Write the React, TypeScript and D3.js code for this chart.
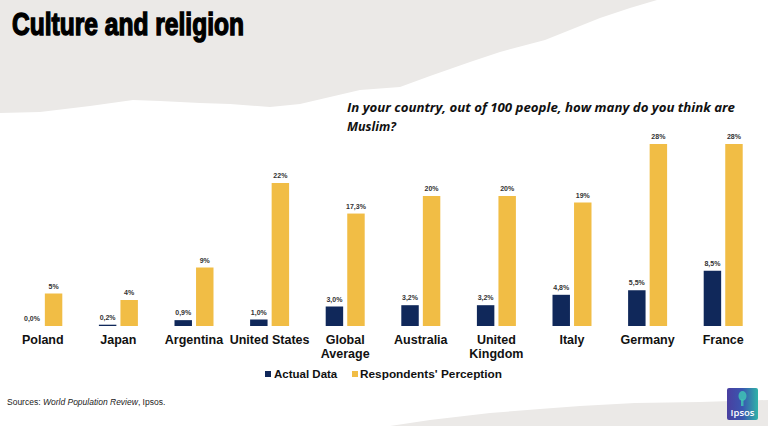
import * as d3 from "d3";

const countries = [
  ["Poland"],
  ["Japan"],
  ["Argentina"],
  ["United States"],
  ["Global", "Average"],
  ["Australia"],
  ["United", "Kingdom"],
  ["Italy"],
  ["Germany"],
  ["France"],
];
const actualData = [0.0, 0.2, 0.9, 1.0, 3.0, 3.2, 3.2, 4.8, 5.5, 8.5];
const perception = [5, 4, 9, 22, 17.3, 20, 20, 19, 28, 28];
const actualLabels = ["0,0%", "0,2%", "0,9%", "1,0%", "3,0%", "3,2%", "3,2%", "4,8%", "5,5%", "8,5%"];
const perceptionLabels = ["5%", "4%", "9%", "22%", "17,3%", "20%", "20%", "19%", "28%", "28%"];
const seriesKeys = ["Actual Data", "Respondents' Perception"];

const W = 768;
const H = 426;
const NAVY = "#10285a";
const YELLOW = "#f1bd45";
const GREY = "#ebe9e7";

export default function App() {
  const names = countries.map((c) => c.join(" "));
  const x0 = d3.scaleBand<string>().domain(names).range([5, 761]).padding(0);
  const x1 = d3
    .scaleBand<string>()
    .domain(seriesKeys)
    .range([x0.bandwidth() / 2 - 19.5, x0.bandwidth() / 2 + 19.5])
    .paddingInner(0.19);
  const y = d3.scaleLinear().domain([0, 28]).range([326, 144]);

  const topTear = d3.line()([
    [0, 0], [657, 0], [630, 8], [600, 18], [575, 28], [545, 40], [500, 52],
    [470, 62], [430, 76], [400, 87], [360, 90], [330, 97], [300, 104],
    [270, 107], [230, 104], [200, 103], [160, 101], [133, 100], [90, 106],
    [40, 112], [0, 113],
  ]) + "Z";
  const bottomTear = d3.line()([
    [390, 426], [430, 420], [490, 413], [540, 409], [580, 406], [635, 403],
    [700, 402], [768, 400], [768, 426],
  ]) + "Z";

  const font = "'Liberation Sans', Arial, sans-serif";

  return (
    <svg
      width={W}
      height={H}
      style={{ position: "fixed", left: 0, top: 0, background: "#fff" }}
    >
      <defs>
        <linearGradient id="ipsos" x1="0" y1="0" x2="1" y2="0">
          <stop offset="0" stopColor="#4a3fa0" />
          <stop offset="0.5" stopColor="#3a56b0" />
          <stop offset="1" stopColor="#2fb3a8" />
        </linearGradient>
      </defs>
      <path d={topTear} fill={GREY} />
      <path d={bottomTear} fill={GREY} />

      <text
        x={12}
        y={35}
        fontFamily={font}
        fontWeight={900}
        fontSize={31}
        stroke="#000"
        strokeWidth={1.4}
        textLength={232}
        lengthAdjust="spacingAndGlyphs"
      >
        Culture and religion
      </text>

      <text
        fontFamily="'Open Sans', sans-serif"
        fontStyle="italic"
        fontWeight={700}
        fontSize={12.5}
        fill="#111"
      >
        <tspan x={347} y={112} textLength={388} lengthAdjust="spacingAndGlyphs">
          In your country, out of 100 people, how many do you think are
        </tspan>
        <tspan x={347} y={131}>Muslim?</tspan>
      </text>

      {names.map((name, i) => {
        const gx = x0(name)!;
        const ax = gx + x1(seriesKeys[0])!;
        const px = gx + x1(seriesKeys[1])!;
        const bw = x1.bandwidth();
        return (
          <g key={name}>
            <rect x={ax} y={y(actualData[i])} width={bw} height={y(0) - y(actualData[i])} fill={NAVY} />
            <rect x={px} y={y(perception[i])} width={bw} height={y(0) - y(perception[i])} fill={YELLOW} />
            <text
              x={ax + bw / 2}
              y={y(actualData[i]) - 5}
              textAnchor="middle"
              fontFamily={font}
              fontWeight={700}
              fontSize={7}
              fill="#333"
            >
              {actualLabels[i]}
            </text>
            <text
              x={px + bw / 2}
              y={y(perception[i]) - 5}
              textAnchor="middle"
              fontFamily={font}
              fontWeight={700}
              fontSize={7}
              fill="#333"
            >
              {perceptionLabels[i]}
            </text>
            <text
              textAnchor="middle"
              fontFamily={font}
              fontWeight={700}
              fontSize={12.5}
              fill="#111"
            >
              {countries[i].map((line, j) => (
                <tspan key={j} x={gx + x0.bandwidth() / 2} y={344 + j * 14}>
                  {line}
                </tspan>
              ))}
            </text>
          </g>
        );
      })}

      <g fontFamily={font} fontWeight={700} fontSize={11.5} fill="#111">
        <rect x={265} y={371} width={6} height={6} fill={NAVY} />
        <text x={274} y={378}>{seriesKeys[0]}</text>
        <rect x={352} y={371} width={6} height={6} fill={YELLOW} />
        <text x={360} y={378} textLength={142} lengthAdjust="spacingAndGlyphs">
          {seriesKeys[1]}
        </text>
      </g>

      <text x={7} y={405} fontFamily={font} fontSize={8.5} fill="#222">
        Sources: <tspan fontStyle="italic">World Population Review</tspan>, Ipsos.
      </text>

      <g>
        <rect x={727} y={388} width={31} height={32} rx={2} fill="url(#ipsos)" />
        <ellipse cx={742.5} cy={396} rx={4} ry={5} fill="#3fc4b5" opacity={0.85} />
        <rect x={741} y={399} width={2.5} height={7} fill="#3fc4b5" opacity={0.85} />
        <text
          x={742.5}
          y={416}
          textAnchor="middle"
          fontFamily="'Open Sans', sans-serif"
          fontWeight={600}
          fontSize={9.5}
          fill="#fff"
        >
          Ipsos
        </text>
      </g>
    </svg>
  );
}
